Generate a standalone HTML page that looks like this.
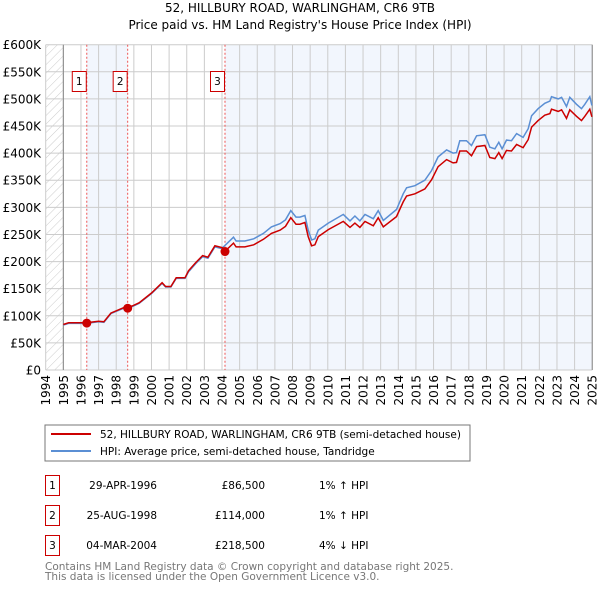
<!DOCTYPE html>
<html><head><meta charset="utf-8"><style>
body{margin:0;background:#fff;width:600px;height:590px;overflow:hidden;font-family:"DejaVu Sans","Liberation Sans",sans-serif;}
svg text{font-family:"DejaVu Sans","Liberation Sans",sans-serif;}
</style></head><body>
<svg id="chart" width="600" height="590" xmlns="http://www.w3.org/2000/svg">
<defs><pattern id="hatch" width="6" height="6" patternUnits="userSpaceOnUse" patternTransform="rotate(45)"><line x1="0" y1="0" x2="0" y2="6" stroke="#ccc" stroke-width="1"/></pattern></defs>
<text x="300" y="12" text-anchor="middle" font-size="12">52, HILLBURY ROAD, WARLINGHAM, CR6 9TB</text>
<text x="300" y="29" text-anchor="middle" font-size="12">Price paid vs. HM Land Registry's House Price Index (HPI)</text>
<g id="plot"></g>
<g>
<rect x="45" y="425" width="425" height="36" fill="#fff" stroke="#777"/>
<line x1="51" y1="434" x2="91" y2="434" stroke="#cc0000" stroke-width="2"/>
<text x="100" y="438" font-size="10.5">52, HILLBURY ROAD, WARLINGHAM, CR6 9TB (semi-detached house)</text>
<line x1="51" y1="451" x2="91" y2="451" stroke="#5b8fd4" stroke-width="2"/>
<text x="100" y="455" font-size="10.5">HPI: Average price, semi-detached house, Tandridge</text>
</g>
<g font-size="10.5">
<rect x="45.5" y="475.5" width="14" height="20" fill="#fff" stroke="#cc0000"/><text x="52.5" y="489" text-anchor="middle">1</text>
<text x="157" y="489" text-anchor="end">29-APR-1996</text><text x="265" y="489" text-anchor="end">£86,500</text><text x="319" y="489">1% ↑ HPI</text>
<rect x="45.5" y="505.5" width="14" height="20" fill="#fff" stroke="#cc0000"/><text x="52.5" y="519" text-anchor="middle">2</text>
<text x="157" y="519" text-anchor="end">25-AUG-1998</text><text x="265" y="519" text-anchor="end">£114,000</text><text x="319" y="519">1% ↑ HPI</text>
<rect x="45.5" y="535.5" width="14" height="20" fill="#fff" stroke="#cc0000"/><text x="52.5" y="549" text-anchor="middle">3</text>
<text x="157" y="549" text-anchor="end">04-MAR-2004</text><text x="265" y="549" text-anchor="end">£218,500</text><text x="319" y="549">4% ↓ HPI</text>
</g>
<text x="45" y="570" font-size="10.5" fill="#777">Contains HM Land Registry data © Crown copyright and database right 2025.</text>
<text x="45" y="580" font-size="10.5" fill="#777">This data is licensed under the Open Government Licence v3.0.</text>
</svg>
<script>
const hpiYears=[1995.0,1995.3,1996.3,1997.0,1997.3,1997.7,1998.5,1998.9,1999.3,2000.0,2000.6,2000.8,2001.1,2001.4,2001.9,2002.1,2002.5,2002.9,2003.2,2003.6,2003.98,2004.27,2004.65,2004.8,2005.3,2005.8,2006.35,2006.8,2007.3,2007.6,2007.9,2008.2,2008.42,2008.70,2008.89,2009.08,2009.27,2009.46,2010.03,2010.88,2011.26,2011.54,2011.82,2012.11,2012.58,2012.86,2013.15,2013.90,2014.28,2014.47,2014.94,2015.51,2015.89,2016.26,2016.74,2017.11,2017.30,2017.49,2017.87,2018.15,2018.44,2018.91,2019.19,2019.48,2019.70,2019.89,2020.14,2020.42,2020.71,2021.08,2021.37,2021.56,2021.93,2022.31,2022.60,2022.69,2023.07,2023.26,2023.54,2023.73,2024.11,2024.39,2024.58,2024.86,2024.98];
const hpiValues=[83,86,86,89,88,104,115,117,123,141,160,153,153,169,169,181,196,209,206,227,224,233,245,238,238,242,252,264,270,277,294,282,282,285,258,240,242,258,271,287,275,284,275,287,279,294,276,296,325,336,340,350,368,393,406,400,401,423,423,414,432,434,411,408,420,408,424,423,436,429,445,469,482,492,496,504,500,503,486,503,490,482,490,504,488];
const priceValues=[84,87,87,90,89,105,116,118,124,142,161,154,154,170,170,183,198,211,208,229,226,222,234,227,227,231,241,252,258,265,281,269,269,272,246,229,231,246,259,274,263,271,263,274,266,281,264,283,310,321,325,334,351,375,388,382,383,404,404,395,412,414,392,390,401,390,405,404,416,410,425,448,460,470,473,481,477,480,464,480,468,460,468,481,467];
const saleYears=[1996.33,1998.65,2004.17];
const salePrices=[86500,114000,218500];
const saleLabels=["1","2","3"];
const yTicks=[0,50,100,150,200,250,300,350,400,450,500,550,600];
const yTickLabels=["£0","£50K","£100K","£150K","£200K","£250K","£300K","£350K","£400K","£450K","£500K","£550K","£600K"];
const xTicks=[1994,1995,1996,1997,1998,1999,2000,2001,2002,2003,2004,2005,2006,2007,2008,2009,2010,2011,2012,2013,2014,2015,2016,2017,2018,2019,2020,2021,2022,2023,2024,2025];

const X0=45.7,XS=17.63,Y0=370,YT=44.7;
const xs=y=>X0+(y-1994)*XS;
const ys=v=>Y0-(v/600)*(Y0-YT);
const NS="http://www.w3.org/2000/svg";
const g=document.getElementById('plot');
function mk(t,a){const e=document.createElementNS(NS,t);for(const k in a)e.setAttribute(k,a[k]);g.appendChild(e);return e;}
const xEnd=xs(2025);
// shading
let e=mk('rect',{x:xs(saleYears[0]),y:YT,width:xs(saleYears[1])-xs(saleYears[0]),height:Y0-YT,fill:'#f2f6fd'});


e=mk('rect',{x:xs(saleYears[2]),y:YT,width:xEnd-xs(saleYears[2]),height:Y0-YT,fill:'#f2f6fd'});


e=mk('rect',{x:xs(1994),y:YT,width:xs(1995)-xs(1994),height:Y0-YT,fill:'url(#hatch)'});


yTicks.forEach((t,i)=>{
 const l=mk('line',{x1:X0,x2:xEnd,y1:ys(t),y2:ys(t),stroke:'#ccc','stroke-width':1});
 
 
 const tx=mk('text',{x:41,y:ys(t)+4.5,'text-anchor':'end','font-size':12});
 tx.textContent=yTickLabels[i];
 
 
});
xTicks.forEach(t=>{
 const l=mk('line',{x1:xs(t),x2:xs(t),y1:YT,y2:Y0,stroke:'#ccc','stroke-width':1});
 
 
 const tx=mk('text',{x:0,y:0,'text-anchor':'end','font-size':12,transform:`translate(${xs(t)+4.5},375) rotate(-90)`});
 tx.textContent=t;
 
 
});
e=mk('line',{x1:xs(1995),x2:xs(1995),y1:YT,y2:Y0,stroke:'#888'});


e=mk('line',{x1:xEnd,x2:xEnd,y1:YT,y2:Y0,stroke:'#888'});


saleYears.forEach((s,i)=>{
 const l=mk('line',{x1:xs(s),x2:xs(s),y1:YT,y2:Y0,stroke:'#e55','stroke-width':1,'stroke-dasharray':'2,2'});
 
 
});
const path=(vals)=>hpiYears.map((y,i)=>(i?'L':'M')+xs(y).toFixed(1)+','+ys(vals[i]).toFixed(1)).join('');
e=mk('path',{d:path(hpiValues),fill:'none',stroke:'#5b8fd4','stroke-width':1.5});


e=mk('path',{d:path(priceValues),fill:'none',stroke:'#cc0000','stroke-width':1.5});


saleYears.forEach((s,i)=>{
 const c=mk('circle',{cx:xs(s),cy:ys(salePrices[i]/1000),r:4.5,fill:'#cc0000'});
 
 
 const r=mk('rect',{x:xs(s)-14.5,y:71.5,width:14,height:20,fill:'#fff',stroke:'#cc0000'});
 
 
 const t=mk('text',{x:xs(s)-7.5,y:85,'text-anchor':'middle','font-size':10.5});
 t.textContent=saleLabels[i];
 
 
});
</script>
</body></html>
